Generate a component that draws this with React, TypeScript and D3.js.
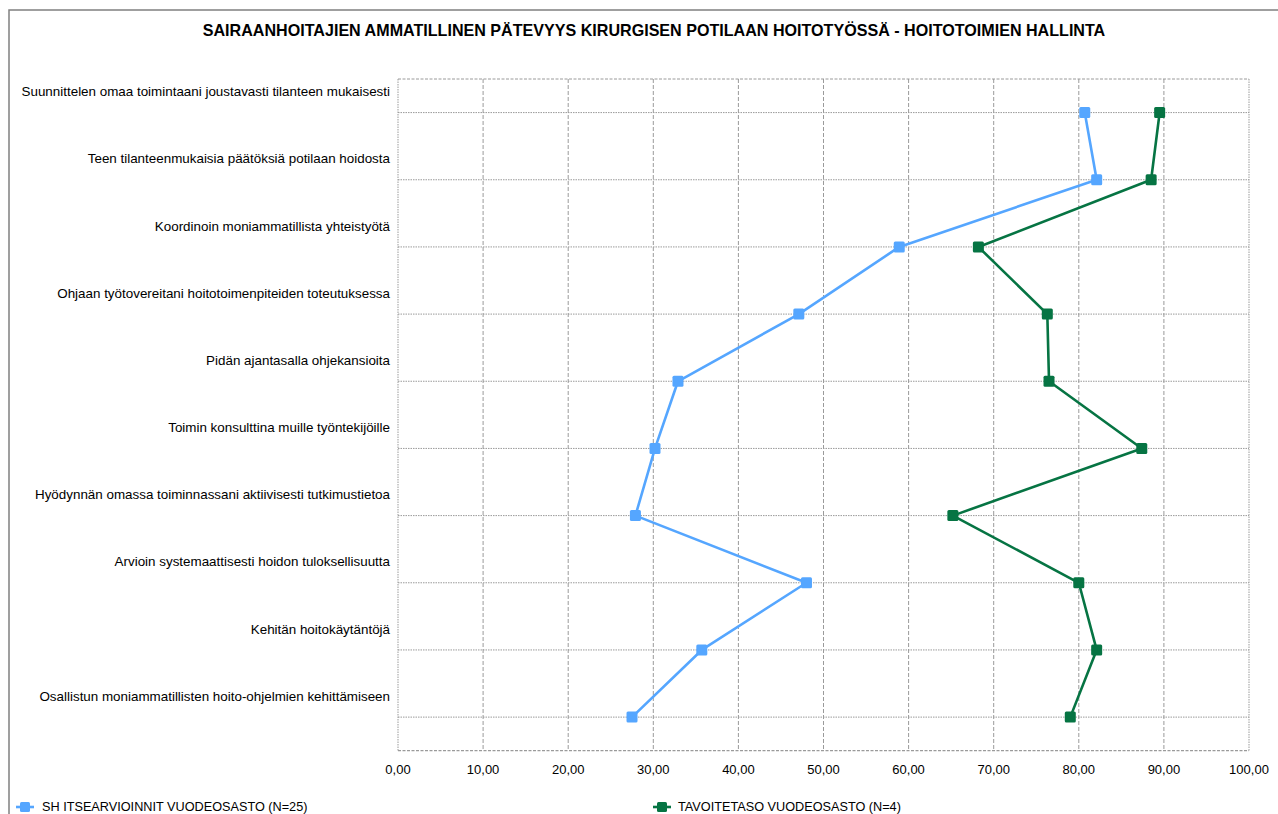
import React from "react";
import * as d3 from "d3";

const categories = [
  "Suunnittelen omaa toimintaani joustavasti tilanteen mukaisesti",
  "Teen tilanteenmukaisia päätöksiä potilaan hoidosta",
  "Koordinoin moniammatillista yhteistyötä",
  "Ohjaan työtovereitani hoitotoimenpiteiden toteutuksessa",
  "Pidän ajantasalla ohjekansioita",
  "Toimin konsulttina muille työntekijöille",
  "Hyödynnän omassa toiminnassani aktiivisesti tutkimustietoa",
  "Arvioin systemaattisesti hoidon tuloksellisuutta",
  "Kehitän hoitokäytäntöjä",
  "Osallistun moniammatillisten hoito-ohjelmien kehittämiseen",
];

const selfAssessment = [80.7, 82.1, 58.9, 47.1, 32.9, 30.2, 27.9, 48.0, 35.7, 27.5];
const targetLevel = [89.5, 88.5, 68.2, 76.3, 76.5, 87.4, 65.2, 80.0, 82.1, 79.0];

const xTicks = [0, 10, 20, 30, 40, 50, 60, 70, 80, 90, 100];

const seriesNames = ["SH ITSEARVIOINNIT VUODEOSASTO (N=25)", "TAVOITETASO VUODEOSASTO (N=4)"];
const seriesColors = ["#55a6ff", "#067443"];

const title =
  "SAIRAANHOITAJIEN AMMATILLINEN PÄTEVYYS KIRURGISEN POTILAAN HOITOTYÖSSÄ - HOITOTOIMIEN HALLINTA";

const W = 1278;
const H = 814;
const plot = { left: 398, right: 1249, top: 79, bottom: 750.7 };
const font = "'Liberation Sans', Arial, sans-serif";
const gridColor = "#9a9a9a";

export default function App() {
  const x = d3.scaleLinear().domain([0, 100]).range([plot.left, plot.right]);
  const y = d3.scaleBand<string>().domain(categories).range([plot.top, plot.bottom]);
  const cy = (c: string) => (y(c) ?? 0) + y.bandwidth() / 2;
  const fmt = (v: number) => d3.format(".2f")(v).replace(".", ",");

  const line = d3
    .line<[string, number]>()
    .x((d) => x(d[1]))
    .y((d) => cy(d[0]));

  const series = [selfAssessment, targetLevel].map((vals) =>
    categories.map((c, i) => [c, vals[i]] as [string, number])
  );

  return (
    <svg width={W} height={H} style={{ display: "block", position: "absolute", left: 0, top: 0 }}>
      <style>{"body{margin:0}"}</style>
      <rect x={0} y={0} width={W} height={H} fill="#fff" />
      <rect x={9} y={10} width={W + 10} height={H + 10} fill="none" stroke="#808080" strokeWidth={1.5} />
      <text x={654} y={36} textAnchor="middle" fontFamily={font} fontWeight="bold" fontSize={16.1} fill="#000">
        {title}
      </text>

      {/* vertical grid */}
      {xTicks.map((t) => (
        <line key={"v" + t} x1={x(t)} x2={x(t)} y1={plot.top} y2={plot.bottom} stroke={gridColor}
          strokeWidth={1} strokeDasharray={t === 0 || t === 100 ? "1.5,1" : "4,2"} />
      ))}
      {/* horizontal grid at category centers */}
      {categories.map((c) => (
        <line key={"h" + c} x1={plot.left} x2={plot.right} y1={cy(c)} y2={cy(c)} stroke={gridColor}
          strokeWidth={1} strokeDasharray="1.5,1" />
      ))}
      <line x1={plot.left} x2={plot.right} y1={plot.top} y2={plot.top} stroke={gridColor} strokeDasharray="3,1.5" />
      <line x1={plot.left} x2={plot.right} y1={plot.bottom} y2={plot.bottom} stroke={gridColor} strokeWidth={1.3} strokeDasharray="3,1.5" />

      {/* category labels */}
      {categories.map((c) => (
        <text key={"l" + c} x={390} y={cy(c) - 21} dy="0.35em" textAnchor="end" fontFamily={font} fontSize={13.4} fill="#000">
          {c}
        </text>
      ))}

      {/* x tick labels */}
      {xTicks.map((t) => (
        <text key={"t" + t} x={x(t)} y={769} dy="0.35em" textAnchor="middle" fontFamily={font} fontSize={13} fill="#000">
          {fmt(t)}
        </text>
      ))}

      {/* series */}
      {series.map((s, si) => (
        <g key={"s" + si}>
          <path d={line(s) ?? ""} fill="none" stroke={seriesColors[si]} strokeWidth={2.6} strokeLinejoin="round" />
          {s.map((d, i) => (
            <rect key={i} x={x(d[1]) - 5.5} y={cy(d[0]) - 5.5} width={11} height={11} rx={1.5}
              fill={seriesColors[si]} />
          ))}
        </g>
      ))}

      {/* legend */}
      {[{ mx: 25, tx: 42 }, { mx: 662, tx: 678 }].map((p, i) => (
        <g key={"lg" + i}>
          <line x1={p.mx - 9} x2={p.mx + 9} y1={807} y2={807} stroke={seriesColors[i]} strokeWidth={2.6} />
          <rect x={p.mx - 5} y={802} width={10} height={10} rx={1.5} fill={seriesColors[i]} />
          <text x={p.tx} y={807} dy="0.35em" fontFamily={font} fontSize={12.7} fill="#000">
            {seriesNames[i]}
          </text>
        </g>
      ))}
    </svg>
  );
}
